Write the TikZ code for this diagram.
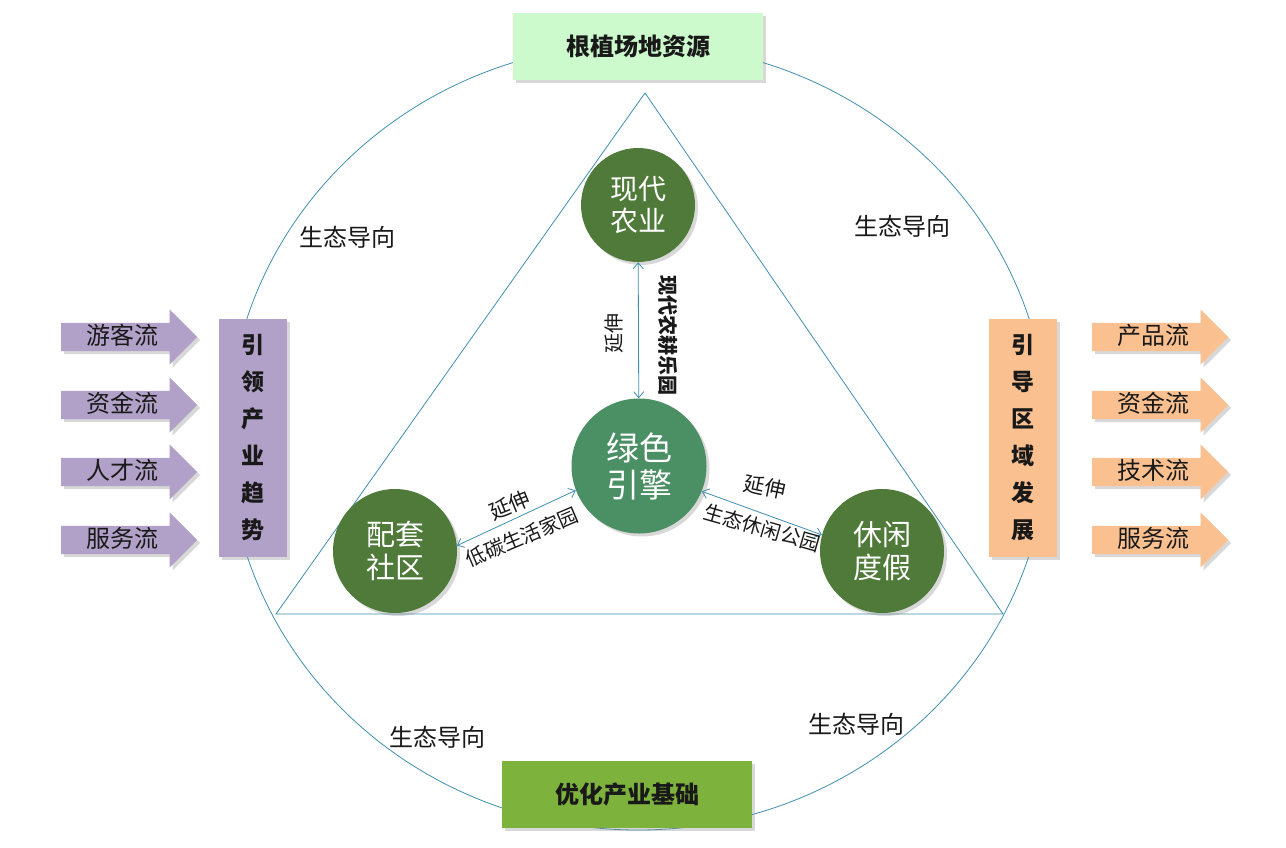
\documentclass[tikz,border=0pt]{standalone}
\usepackage{fontspec}
\setmainfont{Noto Sans CJK SC}
\usetikzlibrary{arrows.meta, positioning, shapes.arrows, shadows}
\definecolor{ringblue}{HTML}{3F8FAF}
\definecolor{hubgreen}{HTML}{4B9064}
\definecolor{leafgreen}{HTML}{4F7A3A}
\definecolor{mintbox}{HTML}{CCFACC}
\definecolor{grassbox}{HTML}{7DB23D}
\definecolor{lilac}{HTML}{B1A0C7}
\definecolor{peach}{HTML}{FAC090}

\begin{document}
\begin{tikzpicture}[x=1pt, y=-1pt,
  every node/.style={align=center, text=black!90},
  softshadow/.style={drop shadow={shadow xshift=3pt, shadow yshift=-3pt, opacity=0.3}},
  ring/.style={draw=ringblue, line width=0.8pt},
  link/.style={draw=ringblue, line width=0.8pt,
    {Straight Barb[length=6pt,width=10pt]}-{Straight Barb[length=6pt,width=10pt]}},
  ball/.style={circle, fill=leafgreen, text=white, minimum size=124, inner sep=0pt,
    font=\fontsize{29}{33}\selectfont, softshadow},
  tag/.style={font=\fontsize{24}{24}\selectfont},
  note/.style={font=\fontsize{20}{20}\selectfont, inner sep=1pt},
  banner/.style={rectangle, minimum width=250, minimum height=67,
    font=\fontsize{24}{24}\selectfont\bfseries, softshadow},
  pillar/.style={rectangle, minimum width=68, minimum height=238,
    font=\fontsize{23}{37}\selectfont\bfseries, softshadow},
  flow/.style={single arrow, anchor=tail, minimum height=136, single arrow head extend=13.5,
    inner ysep=1, text height=20, text depth=6, font=\fontsize{24}{24}\selectfont, softshadow}
]
\useasboundingbox (0,0) rectangle (1286,847);
\fill[white] (0,0) rectangle (1286,847);

% ring and triangle
\draw[ring] (638,437) ellipse [x radius=410, y radius=393];
\coordinate (apex) at (645,93);
\coordinate (baseL) at (276,614);
\coordinate (baseR) at (1003,614);
\draw[ring] (apex) -- (baseL) -- (baseR) -- cycle;

% top and bottom boxes
\node[banner, fill=mintbox] (roots) at (638,46) {根植场地资源};
\node[banner, fill=grassbox] (base) at (627,794) {优化产业基础};

% side boxes
\node[pillar, fill=lilac] (lead) at (253,438) {引\\领\\产\\业\\趋\\势};
\node[pillar, fill=peach] (guide) at (1023,438) {引\\导\\区\\域\\发\\展};

% flows in
\node[flow, fill=lilac] (tourist) at (61,337) {游客流};
\node[flow, fill=lilac] (fundin) at (61,405) {资金流};
\node[flow, fill=lilac] (talent) at (61,472) {人才流};
\node[flow, fill=lilac] (servin) at (61,540) {服务流};

% flows out
\node[flow, fill=peach] (product) at (1092,337) {产品流};
\node[flow, fill=peach] (fundout) at (1092,405) {资金流};
\node[flow, fill=peach] (tech) at (1092,472) {技术流};
\node[flow, fill=peach] (servout) at (1092,540) {服务流};

% circles
\node[ball, minimum size=114, font=\fontsize{28}{32}\selectfont] (farm) at (638,205) {现代\\农业};
\node[ball, fill=hubgreen, minimum size=135, font=\fontsize{33}{37}\selectfont] (engine) at (639,466) {绿色\\引擎};
\node[ball] (community) at (395,551) {配套\\社区};
\node[ball] (leisure) at (882,551) {休闲\\度假};

% links
\draw[link] (farm) -- (engine);
\draw[link] (engine.201) -- (community.5);
\draw[link] (engine.338) -- (leisure.165);

% link labels
\node[note, rotate=90] (extA) at (614,333) {延伸};
\node[note, rotate=-90, font=\fontsize{20}{20}\selectfont\bfseries] (park) at (668,335) {现代农耕乐园};
\node[note, rotate=22, font=\fontsize{21}{21}\selectfont] (extB) at (510,505) {延伸};
\node[note, rotate=23] (home) at (522,537) {低碳生活家园};
\node[note, rotate=-12, font=\fontsize{21}{21}\selectfont] (extC) at (765,487) {延伸};
\node[note, rotate=-16] (garden) at (762,528) {生态休闲公园};

% ecology labels
\node[tag] (ecoA) at (347,237) {生态导向};
\node[tag] (ecoB) at (902,226) {生态导向};
\node[tag] (ecoC) at (437,737) {生态导向};
\node[tag] (ecoD) at (856,724) {生态导向};
\end{tikzpicture}
\end{document}
